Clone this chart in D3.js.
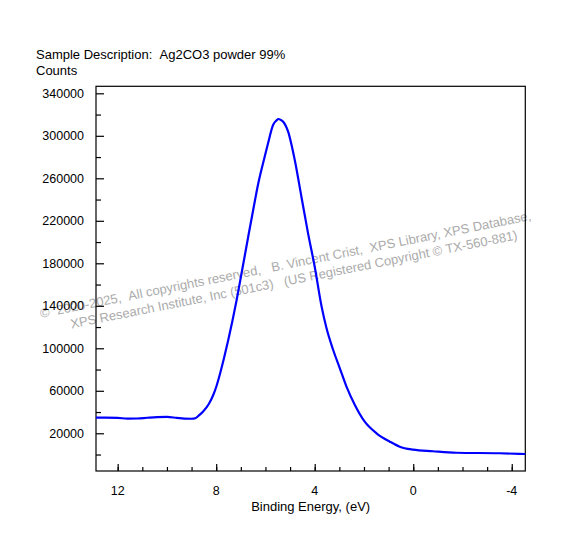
<!DOCTYPE html>
<html>
<head>
<meta charset="utf-8">
<script src="https://cdn.jsdelivr.net/npm/d3@7"></script>
<style>
  html, body { margin: 0; padding: 0; background: #fff; }
  svg text { font-family: "Liberation Sans", Arial, sans-serif; }
</style>
</head>
<body>
<svg id="chart" width="582" height="545"></svg>
<script>
// ---- data ----
const bindingEnergy = [12.88, 12.5, 12.0, 11.6, 11.2, 10.8, 10.4, 10.0, 9.6, 9.3, 9.0, 8.85, 8.7, 8.53, 8.3, 8.12, 7.98, 7.85, 7.68, 7.51, 7.34, 7.17, 6.97, 6.7, 6.5, 6.29, 6.1, 5.91, 5.69, 5.55, 5.48, 5.38, 5.28, 5.08, 4.81, 4.54, 4.27, 4.0, 3.72, 3.52, 3.25, 2.98, 2.71, 2.37, 1.97, 1.49, 0.95, 0.55, 0.01, -0.8, -1.75, -3.51, -4.55];
const counts = [34700, 34700, 34500, 33800, 33900, 34600, 35200, 35400, 34500, 33800, 33700, 34200, 36800, 40500, 47500, 56000, 65000, 75500, 91000, 107800, 126000, 145500, 170600, 205000, 230000, 255300, 274000, 291500, 310200, 314500, 315800, 315000, 313300, 303900, 277200, 242700, 208200, 176800, 139200, 118800, 98400, 81200, 63900, 46600, 30900, 20000, 12100, 7400, 4600, 3100, 1700, 1200, 500];
const xMajorTicks = [12, 8, 4, 0, -4];
const xMinorTicks = [12, 11, 10, 9, 8, 7, 6, 5, 4, 3, 2, 1, 0, -1, -2, -3, -4];
const yMajorTicks = [20000, 60000, 100000, 140000, 180000, 220000, 260000, 300000, 340000];
const yMinorTicks = [0, 40000, 80000, 120000, 160000, 200000, 240000, 280000, 320000];
const titleText = "Sample Description:  Ag2CO3 powder 99%";
const yTitleText = "Counts";
const xTitleText = "Binding Energy, (eV)";
const watermark1 = "\u00A9  2020-2025,  All copyrights reserved,   B. Vincent Crist,  XPS Library, XPS Database,";
const watermark2 = "XPS Research Institute, Inc (501c3)   (US Registered Copyright \u00A9 TX-560-881)";

const data = bindingEnergy.map((e, i) => ({ e, c: counts[i] }));
const keepSpaces = s => s.replace(/ /g, "\u00A0");

// ---- layout ----
const L = 96, R = 525.3, T = 86.3, B = 471;
const svg = d3.select("#chart");

const x = d3.scaleLinear().domain([12.88, -4.55]).range([L, R]);
const y = d3.scaleLinear().domain([-15500, 346600]).range([B, T]);

// watermark (behind)
const wm = svg.append("g").attr("fill", "#ababab").attr("font-size", 13);
wm.append("text").attr("transform", "translate(41,318) rotate(-11.3)").text(keepSpaces(watermark1));
wm.append("text").attr("transform", "translate(71.5,328.5) rotate(-11.3)").text(keepSpaces(watermark2));

// frame
svg.append("rect").attr("x", L).attr("y", T).attr("width", R - L).attr("height", B - T)
  .attr("fill", "none").attr("stroke", "#000").attr("stroke-width", 1.2);

// y axis ticks (inward)
const yAxisMajor = d3.axisRight(y).tickValues(yMajorTicks).tickSize(8).tickFormat("");
const yAxisMinor = d3.axisRight(y).tickValues(yMinorTicks).tickSize(5).tickFormat("");
svg.append("g").attr("transform", `translate(${L},0)`).call(yAxisMajor).call(g => g.select(".domain").remove());
svg.append("g").attr("transform", `translate(${L},0)`).call(yAxisMinor).call(g => g.select(".domain").remove());
svg.selectAll("g line").attr("stroke", "#000").attr("stroke-width", 1.2);

// y tick labels
svg.append("g").selectAll("text").data(yMajorTicks).join("text")
  .attr("x", 84).attr("y", d => y(d)).attr("dy", "0.35em")
  .attr("text-anchor", "end").attr("font-size", 12.5).attr("fill", "#000")
  .text(d => d);

// x axis ticks (inward)
const xAxisMajor = d3.axisTop(x).tickValues(xMajorTicks).tickSize(7).tickFormat("");
const xAxisMinor = d3.axisTop(x).tickValues(xMinorTicks).tickSize(4).tickFormat("");
const gx1 = svg.append("g").attr("transform", `translate(0,${B})`).call(xAxisMajor);
const gx2 = svg.append("g").attr("transform", `translate(0,${B})`).call(xAxisMinor);
[gx1, gx2].forEach(g => { g.select(".domain").remove(); g.selectAll("line").attr("stroke", "#000").attr("stroke-width", 1.2); });

// x tick labels
svg.append("g").selectAll("text").data(xMajorTicks).join("text")
  .attr("x", d => x(d)).attr("y", 495)
  .attr("text-anchor", "middle").attr("font-size", 12.5).attr("fill", "#000")
  .text(d => d < 0 ? "-" + Math.abs(d) : d);

// titles
svg.append("text").attr("x", 36).attr("y", 59).attr("font-size", 13).text(keepSpaces(titleText));
svg.append("text").attr("x", 36).attr("y", 75).attr("font-size", 13).text(yTitleText);
svg.append("text").attr("x", (L + R) / 2).attr("y", 510.5).attr("text-anchor", "middle").attr("font-size", 13).text(xTitleText);

// curve
const line = d3.line().x(d => x(d.e)).y(d => y(d.c)).curve(d3.curveMonotoneX);
svg.append("path").datum(data).attr("d", line)
  .attr("fill", "none").attr("stroke", "#0000ff").attr("stroke-width", 2.2).attr("stroke-linejoin", "round");
</script>
</body>
</html>
